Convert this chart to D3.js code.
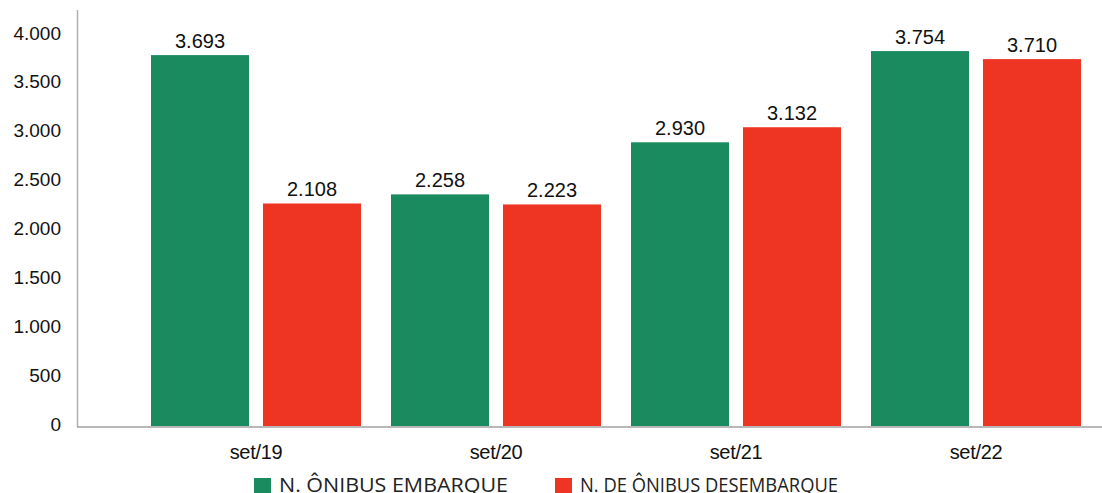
<!DOCTYPE html>
<html>
<head>
<meta charset="utf-8">
<script src="https://cdn.jsdelivr.net/npm/d3@7"></script>
<style>
  body { margin: 0; background: #fff; }
  svg { display: block; }
</style>
</head>
<body>
<div id="chart"></div>
<script>
// dados
const meses = ["set/19", "set/20", "set/21", "set/22"]
const series = ["N. ÔNIBUS EMBARQUE", "N. DE ÔNIBUS DESEMBARQUE"]
// altura das barras como desenhadas no original
const embarque = [3774, 2349, 2882, 3815]
const desembarque = [2256, 2246, 3036, 3733]
// rótulos impressos sobre as barras
const rotulosEmbarque = ["3.693", "2.258", "2.930", "3.754"]
const rotulosDesembarque = ["2.108", "2.223", "3.132", "3.710"]
const yTicks = [0, 500, 1000, 1500, 2000, 2500, 3000, 3500, 4000]

const cores = ["#1a8a5f", "#ee3524"]

const W = 1102, H = 493

const svg = d3.select("#chart")
    .append("svg")
    .attr("width", W)
    .attr("height", H)

const x0 = d3.scaleBand()
    .domain(meses)
    .range([136, 1096])

const x1 = d3.scaleBand()
    .domain([0, 1])
    .range([15, 225])
    .paddingInner(0.125)

const y = d3.scaleLinear()
    .domain([0, 4000])
    .range([424, 33])

// eixo y
const yAxis = svg.append("g")
    .attr("transform", "translate(77,0)")
    .call(d3.axisLeft(y).tickValues(yTicks).tickSize(0).tickPadding(16)
        .tickFormat(d => d3.format(",")(d).replace(/,/g, ".")))
yAxis.select(".domain").remove()
yAxis.selectAll("text")
    .style("font", "19px 'Liberation Sans', Arial, sans-serif")
    .attr("fill", "#111")

// linhas dos eixos
svg.append("line")
    .attr("x1", 77.5).attr("x2", 77.5)
    .attr("y1", 10).attr("y2", 427)
    .attr("stroke", "#b0b0b0").attr("stroke-width", 1.5)

// barras
const dados = meses.map((m, i) => ({
    mes: m,
    valores: [embarque[i], desembarque[i]],
    rotulos: [rotulosEmbarque[i], rotulosDesembarque[i]]
}))

const grupos = svg.selectAll(".grupo")
    .data(dados)
    .enter().append("g")
    .attr("class", "grupo")
    .attr("transform", d => `translate(${x0(d.mes)},0)`)

grupos.selectAll("rect")
    .data(d => d.valores.map((v, k) => ({k: k, v: v})))
    .enter().append("rect")
    .attr("x", d => x1(d.k))
    .attr("y", d => y(d.v))
    .attr("width", x1.bandwidth())
    .attr("height", d => 426 - y(d.v))
    .attr("fill", d => cores[d.k])

grupos.selectAll(".rotulo")
    .data(d => d.valores.map((v, k) => ({k: k, v: v, t: d.rotulos[k]})))
    .enter().append("text")
    .attr("class", "rotulo")
    .attr("x", d => x1(d.k) + x1.bandwidth() / 2)
    .attr("y", d => y(d.v) - 7)
    .attr("text-anchor", "middle")
    .style("font", "20px 'Liberation Sans', Arial, sans-serif")
    .attr("fill", "#111")
    .text(d => d.t)

svg.append("line")
    .attr("x1", 77).attr("x2", W)
    .attr("y1", 427).attr("y2", 427)
    .attr("stroke", "#a0a0a0").attr("stroke-width", 1.5)

// eixo x
svg.selectAll(".mes")
    .data(meses)
    .enter().append("text")
    .attr("class", "mes")
    .attr("x", d => x0(d) + x0.bandwidth() / 2)
    .attr("y", 459)
    .attr("text-anchor", "middle")
    .style("font", "20px 'Liberation Sans', Arial, sans-serif")
    .style("letter-spacing", "-0.3px")
    .attr("fill", "#111")
    .text(d => d)

// legenda
const legX = [254, 555]
const legLargura = [229, 258]
const legenda = svg.selectAll(".leg")
    .data(series)
    .enter().append("g")
    .attr("class", "leg")
    .attr("transform", (d, i) => `translate(${legX[i]},478)`)

legenda.append("rect")
    .attr("width", 17).attr("height", 17)
    .attr("fill", (d, i) => cores[i])

legenda.append("text")
    .attr("x", 25)
    .attr("y", 14)
    .attr("textLength", (d, i) => legLargura[i])
    .attr("lengthAdjust", "spacingAndGlyphs")
    .style("font", "20px 'Open Sans', sans-serif")
    .attr("fill", "#222")
    .text(d => d)
</script>
</body>
</html>
